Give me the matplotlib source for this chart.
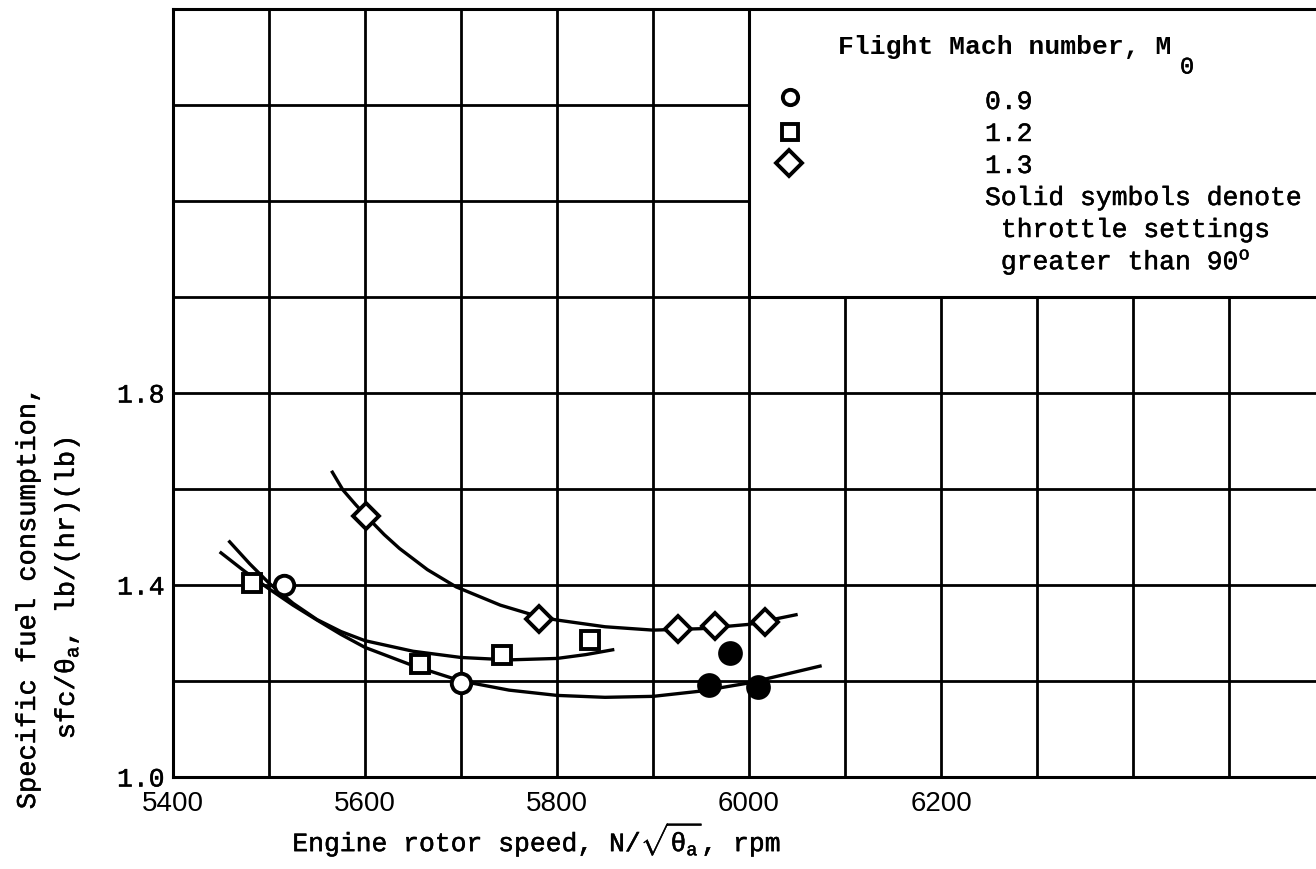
import matplotlib
matplotlib.use("Agg")
import matplotlib.pyplot as plt
import matplotlib.patheffects as pe
from matplotlib.patches import Rectangle
import numpy as np

plt.rcParams['mathtext.fontset'] = 'custom'
plt.rcParams['mathtext.rm'] = 'Liberation Mono'
plt.rcParams['mathtext.it'] = 'Liberation Mono'
plt.rcParams['mathtext.bf'] = 'Liberation Mono:bold'

MONO = 'Liberation Mono'
SANS = 'Liberation Sans'

# data points
# M0 = 0.9 (circles)
m09_open_x = [5516, 5700]
m09_open_y = [1.400, 1.196]
m09_solid_x = [5958, 5980, 6009]
m09_solid_y = [1.191, 1.259, 1.188]
# M0 = 1.2 (squares)
m12_x = [5482, 5657, 5743, 5834]
m12_y = [1.405, 1.236, 1.254, 1.285]
# M0 = 1.3 (diamonds)
m13_x = [5601, 5781, 5926, 5965, 6017]
m13_y = [1.544, 1.330, 1.308, 1.315, 1.322]

# faired curves
fair09_x = [5450, 5475, 5500, 5525, 5550, 5575, 5600, 5650, 5700, 5750, 5800,
            5850, 5900, 5950, 6000, 6074]
fair09_y = [1.467, 1.428, 1.392, 1.358, 1.327, 1.297, 1.270, 1.232, 1.200, 1.181,
            1.170, 1.166, 1.168, 1.179, 1.196, 1.231]
fair12_x = [5459, 5480, 5500, 5525, 5550, 5575, 5600, 5650, 5700, 5750, 5800,
            5830, 5858]
fair12_y = [1.490, 1.444, 1.404, 1.362, 1.328, 1.303, 1.284, 1.262, 1.249, 1.244,
            1.247, 1.255, 1.265]
fair13_x = [5566, 5577, 5590, 5601, 5620, 5636, 5665, 5695, 5741, 5781, 5800,
            5850, 5900, 5950, 6000, 6049]
fair13_y = [1.635, 1.598, 1.568, 1.544, 1.505, 1.476, 1.432, 1.396, 1.358, 1.334,
            1.327, 1.313, 1.306, 1.309, 1.318, 1.338]

x_ticks = np.arange(5400, 6600, 100)
x_labels = ['5400', '', '5600', '', '5800', '', '6000', '', '6200', '', '', '']
y_ticks = [1.0, 1.2, 1.4, 1.6, 1.8, 2.0, 2.2, 2.4, 2.6]
y_labels = ['1.0', '', '1.4', '', '1.8', '', '', '', '']

# slightly heavier strokes, like typewriter text
heavy = [pe.withStroke(linewidth=0.35, foreground='black')]

W, H = 1316, 869
fig = plt.figure(figsize=(W / 100, H / 100), dpi=100)
ax = fig.add_axes([173 / W, (H - 777) / H, (W - 173) / W, 768 / H])
ax.set_xlim(5400, 5400 + (W - 173) * 100 / 96)
ax.set_ylim(1.0, 2.6)
ax.set_axisbelow(True)

ax.set_xticks(x_ticks)
ax.set_xticklabels(x_labels, fontfamily=SANS, fontsize=20)
ax.set_yticks(y_ticks)
ax.set_yticklabels(y_labels, fontfamily=MONO, fontsize=19)
for t in ax.get_yticklabels():
    t.set_path_effects(heavy)
ax.tick_params(axis='x', length=0, pad=10)
ax.tick_params(axis='y', length=0, pad=6)
ax.grid(True, color='black', lw=2.0)
for s in ['left', 'bottom', 'top']:
    ax.spines[s].set_linewidth(2.2)
ax.spines['right'].set_visible(False)

# blank legend panel in the upper right
ax.add_patch(Rectangle((6000, 2.0), 700, 0.7, facecolor='white',
                       edgecolor='black', lw=2.2, zorder=1))

lw = 2.4
ax.plot(fair09_x, fair09_y, color='black', lw=lw, zorder=2)
ax.plot(fair12_x, fair12_y, color='black', lw=lw, zorder=2)
ax.plot(fair13_x, fair13_y, color='black', lw=lw, zorder=2)

mk = dict(linestyle='none', mec='black', mew=2.8, zorder=3)
ax.plot(m09_open_x, m09_open_y, marker='o', ms=14, mfc='white', **mk)
ax.plot(m09_solid_x, m09_solid_y, marker='o', ms=15, mfc='black', **mk)
ax.plot(m12_x, m12_y, marker='s', ms=13, mfc='white', **mk)
ax.plot(m13_x, m13_y, marker='D', ms=13.5, mfc='white', **mk)

# overlay in pixel units for legend and axis titles
ov = fig.add_axes([0, 0, 1, 1])
ov.set_xlim(0, W)
ov.set_ylim(H, 0)
ov.axis('off')

ov.text(838, 47, r'Flight Mach number, M', fontfamily=MONO, fontsize=19,
        fontweight='bold', va='center', ha='left')
ov.text(1180, 67, '0', fontfamily=MONO, fontsize=17, va='center', ha='left',
        path_effects=heavy)

lg = dict(linestyle='none', mec='black', mew=2.8, mfc='white')
ov.plot([790], [97], marker='o', ms=11, **lg)
ov.plot([790], [132], marker='s', ms=11, **lg)
ov.plot([789], [163], marker='D', ms=13, **lg)

tx = dict(fontfamily=MONO, fontsize=19, va='center', ha='left',
          path_effects=heavy)
ov.text(985, 102, '0.9', **tx)
ov.text(985, 134, '1.2', **tx)
ov.text(985, 166, '1.3', **tx)
ov.text(985, 198, 'Solid symbols denote', **tx)
ov.text(985, 230, ' throttle settings', **tx)
ov.text(985, 262, r' greater than 90$^\mathrm{o}$', **tx)

ov.text(536, 840, r'Engine rotor speed, N/$\sqrt{\theta_\mathrm{a}}$, rpm',
        fontfamily=MONO, fontsize=19, ha='center', va='center',
        path_effects=heavy)
ov.text(28, 598, 'Specific fuel consumption,', fontfamily=MONO, fontsize=19.5,
        rotation=90, ha='center', va='center', path_effects=heavy)
ov.text(67, 588, r'sfc/$\theta_\mathrm{a}$, lb/(hr)(lb)', fontfamily=MONO,
        fontsize=19.5, rotation=90, ha='center', va='center',
        path_effects=heavy)

fig.savefig('out.png', dpi=100)
